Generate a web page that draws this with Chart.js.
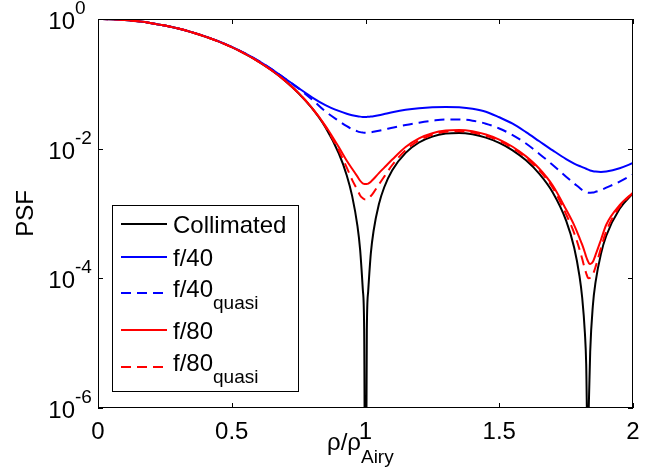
<!DOCTYPE html>
<html lang="en">
<head>
<meta charset="UTF-8">
<title>PSF vs radius</title>
<script src="https://cdn.jsdelivr.net/npm/chart.js"></script>
<style>
  body { margin: 0; background: #fff; }
  #wrap { width: 662px; height: 473px; }
</style>
</head>
<body>
<div id="wrap"><canvas id="psfChart" width="662" height="473"></canvas></div>
<script>
// radius in units of the Airy radius
const rho = [0, 0.05, 0.1, 0.15, 0.2, 0.25, 0.3, 0.35, 0.4, 0.45,
  0.5, 0.55, 0.6, 0.65, 0.7, 0.75, 0.8, 0.85, 0.9, 0.93,
  0.95, 0.97, 0.98, 0.99, 0.995, 1.0, 1.005, 1.01, 1.02, 1.03,
  1.05, 1.07, 1.1, 1.15, 1.2, 1.25, 1.3, 1.35, 1.4, 1.45,
  1.5, 1.55, 1.6, 1.65, 1.7, 1.75, 1.78, 1.8, 1.81, 1.82,
  1.825, 1.83, 1.835, 1.84, 1.85, 1.86, 1.88, 1.9, 1.95, 2.0];

const collimated = [1, 0.9909, 0.9639, 0.9202, 0.8620, 0.7914, 0.7118, 0.6263, 0.5384, 0.4511,
  0.3675, 0.2901, 0.2208, 0.1608, 0.1111, 0.07166, 0.04205, 0.02141, 0.008496, 0.003864,
  0.001868, 6.367e-4, 2.751e-4, 6.683e-5, 1.646e-5, 1e-9, 1.598e-5, 6.296e-5, 2.442e-4, 5.325e-4,
  1.386e-3, 2.539e-3, 4.654e-3, 8.619e-3, 0.01245, 0.01534, 0.01708, 0.01749, 0.01664, 0.01480,
  0.01227, 0.009424, 0.006601, 0.004091, 0.002115, 7.786e-4, 2.996e-4, 1.083e-4, 5.066e-5, 1.473e-5,
  4.83e-6, 3.1e-7, 1.17e-6, 7.41e-6, 3.815e-5, 8.717e-5, 2.362e-4, 4.541e-4, 1.181e-3, 2.054e-3];

const f40 = [1, 0.9909, 0.964, 0.9204, 0.8625, 0.7922, 0.7130, 0.6280, 0.5405, 0.4538,
  0.3710, 0.2945, 0.2260, 0.1670, 0.1200, 0.0860, 0.0620, 0.0470, 0.0382, 0.0345,
  0.0328, 0.0316, 0.0312, 0.0309, 0.0308, 0.0308, 0.0309, 0.0310, 0.0313, 0.0317,
  0.0328, 0.0342, 0.0364, 0.0397, 0.0421, 0.0436, 0.0441, 0.0434, 0.0412, 0.0372,
  0.0305, 0.0243, 0.0180, 0.0130, 0.0094, 0.0069, 0.0059, 0.0054, 0.0052, 0.0050,
  0.0049, 0.0048, 0.0047, 0.0046, 0.0045, 0.00443, 0.00438, 0.00445, 0.0050, 0.0060];

const f40quasi = [1, 0.9909, 0.964, 0.9204, 0.8625, 0.7922, 0.7130, 0.6280, 0.5405, 0.4538,
  0.3710, 0.2945, 0.2260, 0.1670, 0.1200, 0.0845, 0.0575, 0.0375, 0.0268, 0.0222,
  0.0200, 0.0185, 0.0180, 0.0177, 0.0176, 0.0176, 0.0176, 0.0177, 0.0179, 0.0182,
  0.0189, 0.0197, 0.0210, 0.0232, 0.0252, 0.0270, 0.0283, 0.0283, 0.0270, 0.0243,
  0.0205, 0.0162, 0.0120, 0.0083, 0.0056, 0.0037, 0.0029, 0.0025, 0.0023, 0.00218,
  0.00213, 0.0021, 0.00209, 0.00209, 0.0021, 0.00216, 0.0023, 0.0025, 0.0031, 0.0040];

const f80 = [1, 0.9909, 0.9639, 0.9202, 0.8620, 0.7914, 0.7118, 0.6263, 0.5384, 0.4511,
  0.3675, 0.2901, 0.2208, 0.1608, 0.1111, 0.0718, 0.0426, 0.0226, 0.0106, 0.0065,
  0.0049, 0.0037, 0.0032, 0.0029, 0.00286, 0.00284, 0.00286, 0.0029, 0.0031, 0.0034,
  0.0042, 0.0051, 0.0068, 0.0106, 0.0144, 0.0173, 0.0190, 0.0194, 0.0185, 0.0165,
  0.0138, 0.0107, 0.0076, 0.0049, 0.0027, 0.00115, 6.6e-4, 4.2e-4, 3.3e-4, 2.5e-4,
  2.15e-4, 1.9e-4, 1.72e-4, 1.66e-4, 1.8e-4, 2.3e-4, 3.9e-4, 6.7e-4, 1.34e-3, 2.1e-3];

const f80quasi = [1, 0.9909, 0.9639, 0.9202, 0.8620, 0.7914, 0.7118, 0.6263, 0.5384, 0.4511,
  0.3675, 0.2901, 0.2208, 0.1608, 0.1111, 0.0718, 0.0423, 0.0219, 0.0094, 0.0051,
  0.0033, 0.0023, 0.0019, 0.00172, 0.00167, 0.00165, 0.00166, 0.0017, 0.00186, 0.0021,
  0.0028, 0.0037, 0.0056, 0.0095, 0.0134, 0.0164, 0.0182, 0.0186, 0.0177, 0.0158,
  0.0132, 0.0102, 0.0072, 0.0046, 0.0025, 9.7e-4, 5.0e-4, 2.8e-4, 2.0e-4, 1.4e-4,
  1.2e-4, 1.05e-4, 1.0e-4, 1.02e-4, 1.15e-4, 1.5e-4, 2.9e-4, 5.3e-4, 1.27e-3, 2.08e-3];

const seriesNames = ['Collimated', 'f/40', 'f/40', 'f/80', 'f/80'];
const seriesSubs = ['', '', 'quasi', '', 'quasi'];

const xTickValues = [0, 0.5, 1, 1.5, 2];
const xTickLabels = ['0', '0.5', '1', '1.5', '2'];
const yTickValues = [1, 1e-2, 1e-4, 1e-6];
const yTickExponents = ['0', '-2', '-4', '-6'];

const FONT = '"Liberation Sans", Arial, Helvetica, sans-serif';

// axes box, inward ticks, power-of-ten labels, axis titles and legend
const decorations = {
  id: 'decorations',
  afterDraw(chart) {
    const ctx = chart.ctx;
    const a = chart.chartArea;
    const xs = chart.scales.x, ys = chart.scales.y;
    ctx.save();
    ctx.strokeStyle = '#000';
    ctx.lineWidth = 1;
    ctx.setLineDash([]);
    ctx.strokeRect(a.left + 0.5, a.top + 0.5, a.right - a.left - 1, a.bottom - a.top - 1);

    ctx.beginPath();
    xTickValues.forEach(v => {
      const px = Math.round(xs.getPixelForValue(v)) + 0.5;
      ctx.moveTo(px, a.bottom); ctx.lineTo(px, a.bottom - 5);
      ctx.moveTo(px, a.top); ctx.lineTo(px, a.top + 5);
    });
    yTickValues.forEach(v => {
      const py = Math.round(ys.getPixelForValue(v)) + 0.5;
      ctx.moveTo(a.left, py); ctx.lineTo(a.left + 5, py);
      ctx.moveTo(a.right, py); ctx.lineTo(a.right - 5, py);
    });
    ctx.stroke();

    ctx.fillStyle = '#000';
    ctx.textBaseline = 'alphabetic';
    yTickValues.forEach((v, i) => {
      const py = ys.getPixelForValue(v);
      ctx.font = '24px ' + FONT;
      ctx.textAlign = 'right';
      ctx.fillText('10', a.left - 23, py + 10);
      ctx.font = '19px ' + FONT;
      ctx.textAlign = 'left';
      ctx.fillText(yTickExponents[i], a.left - 23, py - 5);
    });

    // x title with subscript
    ctx.font = '24px ' + FONT;
    ctx.textAlign = 'left';
    const xl = 327;
    ctx.fillText('\u03C1/\u03C1', xl, 450);
    const w = ctx.measureText('\u03C1/\u03C1').width;
    ctx.font = '19px ' + FONT;
    ctx.fillText('Airy', xl + w, 463);

    // y title
    ctx.save();
    ctx.translate(33, (a.top + a.bottom) / 2);
    ctx.rotate(-Math.PI / 2);
    ctx.font = '24px ' + FONT;
    ctx.textAlign = 'center';
    ctx.fillText('PSF', 0, 0);
    ctx.restore();

    // legend
    const lx = a.left + 14, ly = a.top + 186, lw = 187, lh = 187;
    ctx.fillStyle = '#fff';
    ctx.fillRect(lx, ly, lw, lh);
    ctx.strokeStyle = '#000';
    ctx.lineWidth = 1;
    ctx.strokeRect(lx + 0.5, ly + 0.5, lw - 1, lh - 1);
    const rows = [19, 52, 88, 125, 162];
    chart.data.datasets.forEach((ds, i) => {
      const y = ly + rows[i];
      ctx.strokeStyle = ds.borderColor;
      ctx.lineWidth = ds.borderWidth;
      ctx.setLineDash(ds.borderDash || []);
      ctx.beginPath();
      ctx.moveTo(lx + 9, y); ctx.lineTo(lx + 55, y);
      ctx.stroke();
      ctx.setLineDash([]);
      ctx.fillStyle = '#000';
      ctx.font = '24px ' + FONT;
      ctx.textAlign = 'left';
      if (seriesSubs[i]) {
        ctx.fillText(seriesNames[i], lx + 61, y + 4);
        const mw = ctx.measureText(seriesNames[i]).width;
        ctx.font = '19px ' + FONT;
        ctx.fillText(seriesSubs[i], lx + 61 + mw, y + 16);
      } else {
        ctx.fillText(seriesNames[i], lx + 61, y + 9);
      }
    });
    ctx.restore();
  }
};

function series(values, color, dashed, order, idx) {
  return {
    label: seriesNames[idx] + seriesSubs[idx],
    data: values.map((v, i) => ({ x: rho[i], y: v })),
    borderColor: color,
    borderWidth: 2,
    borderDash: dashed ? [10, 6] : [],
    pointRadius: 0,
    fill: false,
    cubicInterpolationMode: 'monotone',
    order: order
  };
}

new Chart(document.getElementById('psfChart'), {
  type: 'line',
  data: {
    datasets: [
      series(collimated, '#000000', false, 5, 0),
      series(f40, '#0000ff', false, 4, 1),
      series(f40quasi, '#0000ff', true, 3, 2),
      series(f80, '#ff0000', false, 2, 3),
      series(f80quasi, '#ff0000', true, 1, 4)
    ]
  },
  options: {
    responsive: false,
    animation: false,
    events: [],
    layout: { padding: { left: 0, top: 19, right: 29, bottom: 0 } },
    plugins: { legend: { display: false }, tooltip: { enabled: false } },
    scales: {
      x: {
        type: 'linear',
        min: 0,
        max: 2,
        afterBuildTicks: s => { s.ticks = xTickValues.map(v => ({ value: v })); },
        afterFit: s => { s.height = 65; },
        grid: { display: false, drawTicks: false },
        border: { display: false },
        ticks: {
          color: '#000',
          font: { family: FONT, size: 24 },
          padding: 10,
          maxRotation: 0,
          callback: (v, i) => xTickLabels[i]
        }
      },
      y: {
        type: 'logarithmic',
        min: 1e-6,
        max: 1,
        afterBuildTicks: s => { s.ticks = yTickValues.map(v => ({ value: v })); },
        afterFit: s => { s.width = 98; },
        grid: { display: false },
        border: { display: false },
        ticks: { display: false }
      }
    }
  },
  plugins: [decorations]
});
</script>
</body>
</html>
